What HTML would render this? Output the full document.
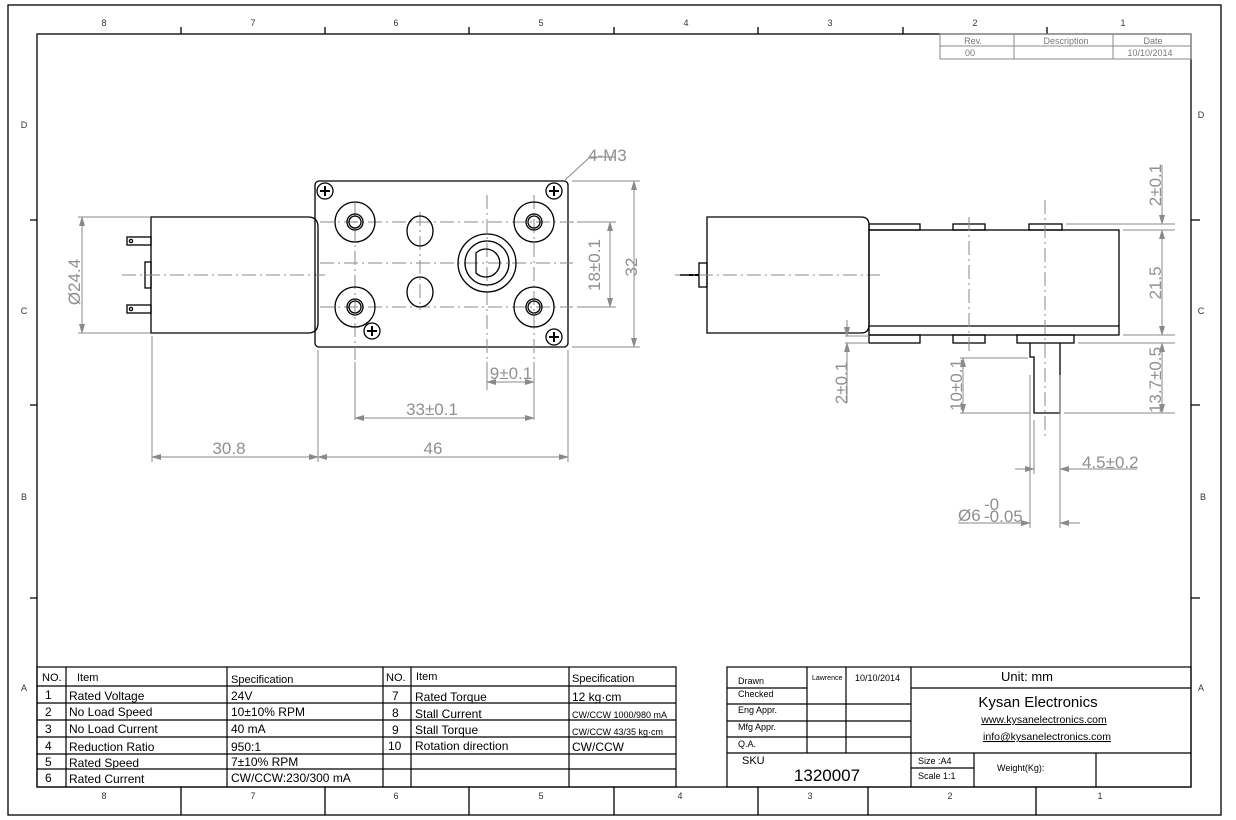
<!DOCTYPE html>
<html><head><meta charset="utf-8"><style>
html,body{margin:0;padding:0;background:#fff;}
svg{display:block;font-family:"Liberation Sans",sans-serif;}
.k{stroke:#000;fill:none;stroke-width:1.3}
.g{stroke:#8a8a8a;fill:none;stroke-width:1}
.c{stroke:#8a8a8a;fill:none;stroke-width:1;stroke-dasharray:14 4 2 4}
.d{fill:#909090;font-size:17px}
.t{fill:#000;font-size:12px}
.s{fill:#000;font-size:9px}
.b{fill:#333;font-size:9px}
</style></head><body>
<svg width="1236" height="820" viewBox="0 0 1236 820" xmlns="http://www.w3.org/2000/svg">
<defs><marker id="a" markerWidth="10" markerHeight="6" refX="9" refY="3" orient="auto-start-reverse" markerUnits="userSpaceOnUse"><path d="M0,0 L10,3 L0,6 z" fill="#8a8a8a"/></marker></defs>
<rect width="1236" height="820" fill="#fff"/>
<rect x="8" y="5" width="1213" height="810" class="k"/>
<rect x="37" y="34" width="1154" height="753" class="k"/>
<g class="k">
<path d="M181 27V34M325 27V34M469 27V34M614 27V34M758 27V34M903 27V34M1047 27V34"/>
<path d="M181 787V815M325 787V815M469 787V815M614 787V815M758 787V815M868 787V815M1036 787V815"/>
<path d="M30 220H37M30 405H37M30 598H37M1191 220H1200M1191 405H1200M1191 598H1200"/>
</g>
<g class="b" text-anchor="middle">
<text x="104" y="26">8</text><text x="253" y="26">7</text><text x="396" y="26">6</text><text x="541" y="26">5</text><text x="686" y="26">4</text><text x="830" y="26">3</text><text x="975" y="26">2</text><text x="1123" y="26">1</text>
<text x="104" y="799">8</text><text x="253" y="799">7</text><text x="396" y="799">6</text><text x="541" y="799">5</text><text x="680" y="799">4</text><text x="810" y="799">3</text><text x="950" y="799">2</text><text x="1100" y="799">1</text>
<text x="24" y="128">D</text><text x="24" y="314">C</text><text x="24" y="500">B</text><text x="24" y="691">A</text>
<text x="1201" y="118">D</text><text x="1201" y="314">C</text><text x="1203" y="500">B</text><text x="1201" y="691">A</text>
</g>
<g stroke="#888" fill="none" stroke-width="1"><rect x="940" y="34" width="251" height="25"/><path d="M940 46H1191M1014 34V59M1113 34V59"/></g>
<g class="b" text-anchor="middle"><text x="973" y="44" fill="#777">Rev.</text><text x="1066" y="44" fill="#777">Description</text><text x="1153" y="44" fill="#777">Date</text><text x="970" y="56" fill="#777">00</text><text x="1150" y="56" fill="#777">10/10/2014</text></g>

<path class="k" d="M151 217H308Q318 217 318 227V323Q318 333 308 333H151Z"/>
<rect class="k" x="127" y="237" width="24" height="8"/><circle class="k" cx="131" cy="241" r="1.6"/>
<rect class="k" x="127" y="305" width="24" height="8"/><circle class="k" cx="131" cy="309" r="1.6"/>
<rect class="k" x="145" y="262" width="6" height="26"/>
<path class="c" d="M122 275H325"/>
<rect class="k" x="315" y="181" width="253" height="166" rx="4"/>
<g class="c"><path d="M320 222H613M320 307H573M320 263H573M355 203V360M420 212V310M487 195V390M534 195V382"/></g>
<g class="k">
<circle cx="355" cy="222" r="20"/><circle cx="355" cy="222" r="8"/><circle cx="355" cy="222" r="6"/>
<circle cx="534" cy="222" r="20"/><circle cx="534" cy="222" r="8"/><circle cx="534" cy="222" r="6"/>
<circle cx="355" cy="307" r="20"/><circle cx="355" cy="307" r="8"/><circle cx="355" cy="307" r="6"/>
<circle cx="534" cy="307" r="20"/><circle cx="534" cy="307" r="8"/><circle cx="534" cy="307" r="6"/>
<ellipse cx="420" cy="231" rx="13" ry="15"/><ellipse cx="420" cy="292" rx="13" ry="15"/>
<circle cx="487" cy="263" r="29"/><circle cx="487" cy="263" r="22"/><path d="M476 253A14 14 0 1 1 476 273Z"/>
<circle cx="325" cy="191" r="8"/><circle cx="554" cy="191" r="8"/><circle cx="372" cy="331" r="8"/><circle cx="554" cy="337" r="8"/>
</g>
<g stroke="#000" stroke-width="2"><path d="M320 191H330M325 186V196M549 191H559M554 186V196M367 331H377M372 326V336M549 337H559M554 332V342"/></g>
<g class="g">
<path d="M565 180L590 157H616"/>
<path d="M572 181H640M572 347H640M577 222H616M577 307H616"/>
<path d="M634 181V347" marker-start="url(#a)" marker-end="url(#a)"/>
<path d="M610 222V307" marker-start="url(#a)" marker-end="url(#a)"/>
<path d="M78 217H150M78 333H150"/>
<path d="M82 217V333" marker-start="url(#a)" marker-end="url(#a)"/>
<path d="M152 336V462M318 350V462M568 350V462M355 362V420M534 362V420M487 362V388"/>
<path d="M487 382H534" marker-start="url(#a)" marker-end="url(#a)"/>
<path d="M355 418H534" marker-start="url(#a)" marker-end="url(#a)"/>
<path d="M152 457H318" marker-start="url(#a)" marker-end="url(#a)"/>
<path d="M318 457H568" marker-start="url(#a)" marker-end="url(#a)"/>
</g>
<text class="d" x="588" y="161" font-size="12">4-M3</text>
<text class="d" transform="translate(637 267) rotate(-90)" text-anchor="middle">32</text>
<text class="d" transform="translate(600 265) rotate(-90)" text-anchor="middle">18±0.1</text>
<text class="d" transform="translate(80 282) rotate(-90)" text-anchor="middle">Ø24.4</text>
<text class="d" x="511" y="379" text-anchor="middle">9±0.1</text>
<text class="d" x="432" y="415" text-anchor="middle">33±0.1</text>
<text class="d" x="229" y="454" text-anchor="middle">30.8</text>
<text class="d" x="433" y="454" text-anchor="middle">46</text>

<path class="k" d="M707 217H861Q869 217 869 225V325Q869 333 861 333H707Z"/>
<rect class="k" x="699" y="263" width="8" height="24"/>
<path d="M680 275H699" stroke="#000" stroke-width="2"/>
<path class="c" d="M675 275H880"/>
<rect class="k" x="869" y="230" width="250" height="105"/>
<path class="k" d="M869 326H1119"/>
<rect class="k" x="869" y="224" width="51" height="6"/><rect class="k" x="953" y="224" width="32" height="6"/><rect class="k" x="1029" y="224" width="33" height="6"/>
<rect class="k" x="869" y="335" width="51" height="8"/><rect class="k" x="953" y="335" width="32" height="8"/><rect class="k" x="1017" y="335" width="57" height="8"/>
<path class="k" d="M1030 343V357H1034V413H1060V343"/>
<path class="c" d="M969 217V352M1045 200V440"/>
<g class="g">
<path d="M1066 224H1175M1123 230H1175M1123 335H1175M1078 343H1175M1064 413H1175"/>
<path d="M1162 165V224" marker-end="url(#a)"/>
<path d="M1162 230V335" marker-start="url(#a)" marker-end="url(#a)"/>
<path d="M1162 343V413" marker-start="url(#a)" marker-end="url(#a)"/>
<path d="M960 358H1028M960 413H1030"/>
<path d="M963 358V413" marker-start="url(#a)" marker-end="url(#a)"/>
<path d="M845 336H869M845 343H869"/>
<path d="M847 320V336" marker-end="url(#a)"/>
<path d="M847 403V343" marker-end="url(#a)"/>
<path d="M1034 420V474M1060 418V474M1030 375V528M1060 375V528"/>
<path d="M1015 469H1034" marker-end="url(#a)"/>
<path d="M1137 469H1060" marker-end="url(#a)"/>
<path d="M958 523H1030" marker-end="url(#a)"/>
<path d="M1080 523H1060" marker-end="url(#a)"/>
</g>
<text class="d" transform="translate(1161 185) rotate(-90)" text-anchor="middle">2±0.1</text>
<text class="d" transform="translate(1161 283) rotate(-90)" text-anchor="middle">21.5</text>
<text class="d" transform="translate(1161 380) rotate(-90)" text-anchor="middle">13.7±0.5</text>
<text class="d" transform="translate(962 385) rotate(-90)" text-anchor="middle">10±0.1</text>
<text class="d" transform="translate(847 383) rotate(-90)" text-anchor="middle">2±0.1</text>
<text class="d" x="1082" y="468">4.5±0.2</text>
<text class="d" x="958" y="521">Ø6</text>
<text class="d" x="984" y="510" font-size="11">-0</text>
<text class="d" x="984" y="522" font-size="11">-0.05</text>

<g stroke="#000" stroke-width="1.2" fill="none">
<rect x="37" y="667" width="639" height="120"/>
<path d="M37 686H676M37 703H676M37 720H676M37 737H676M37 754H676M37 769H676"/>
<path d="M66 667V787M227 667V787M383 667V787M411 667V787M569 667V787"/>
</g>
<g class="t">
<text x="42" y="681" font-size="11">NO.</text><text x="77" y="681" font-size="11">Item</text><text x="231" y="683" font-size="11">Specification</text>
<text x="386" y="681" font-size="11">NO.</text><text x="416" y="680" font-size="11">Item</text><text x="572" y="682" font-size="11">Specification</text>
<text x="45" y="699">1</text><text x="69" y="700">Rated Voltage</text><text x="231" y="700">24V</text>
<text x="45" y="716">2</text><text x="69" y="716">No Load Speed</text><text x="231" y="716">10±10% RPM</text>
<text x="45" y="733">3</text><text x="69" y="733">No Load Current</text><text x="231" y="733">40 mA</text>
<text x="45" y="750">4</text><text x="69" y="751">Reduction Ratio</text><text x="231" y="751">950:1</text>
<text x="45" y="766">5</text><text x="69" y="767">Rated Speed</text><text x="231" y="766">7±10% RPM</text>
<text x="45" y="782">6</text><text x="69" y="783">Rated Current</text><text x="231" y="782">CW/CCW:230/300 mA</text>
<text x="392" y="700">7</text><text x="415" y="701">Rated Torque</text><text x="572" y="701">12 kg·cm</text>
<text x="392" y="717">8</text><text x="415" y="718">Stall Current</text><text x="572" y="718" font-size="9">CW/CCW 1000/980 mA</text>
<text x="392" y="734">9</text><text x="415" y="734">Stall Torque</text><text x="572" y="735" font-size="9">CW/CCW 43/35 kg·cm</text>
<text x="388" y="750">10</text><text x="415" y="750">Rotation direction</text><text x="572" y="751">CW/CCW</text>
</g>

<g stroke="#000" stroke-width="1.2" fill="none">
<rect x="727" y="667" width="464" height="120"/>
<path d="M727 688H807M727 704H911M727 721H911M727 737H911M727 753H1191M911 688H1191"/>
<path d="M807 667V753M846 667V753M911 667V787M974 753V787M1096 753V787M911 768H974"/>
</g>
<g class="t">
<text x="738" y="684" font-size="9">Drawn</text><text x="812" y="680" font-size="7">Lawrence</text><text x="855" y="681" font-size="9">10/10/2014</text>
<text x="738" y="697" font-size="9">Checked</text><text x="738" y="713" font-size="9">Eng Appr.</text><text x="738" y="730" font-size="9">Mfg Appr.</text><text x="738" y="747" font-size="9">Q.A.</text>
<text x="1027" y="681" font-size="13" text-anchor="middle">Unit: mm</text>
<text x="1038" y="707" font-size="15" text-anchor="middle">Kysan Electronics</text>
<text x="1044" y="723" font-size="10.5" text-anchor="middle" text-decoration="underline">www.kysanelectronics.com</text>
<text x="1047" y="740" font-size="10.5" text-anchor="middle" text-decoration="underline">info@kysanelectronics.com</text>
<text x="742" y="764" font-size="11">SKU</text>
<text x="827" y="781" font-size="17" text-anchor="middle">1320007</text>
<text x="918" y="764" font-size="9">Size :A4</text><text x="918" y="779" font-size="9">Scale 1:1</text>
<text x="997" y="771" font-size="9">Weight(Kg):</text>
</g>
</svg>
</body></html>
